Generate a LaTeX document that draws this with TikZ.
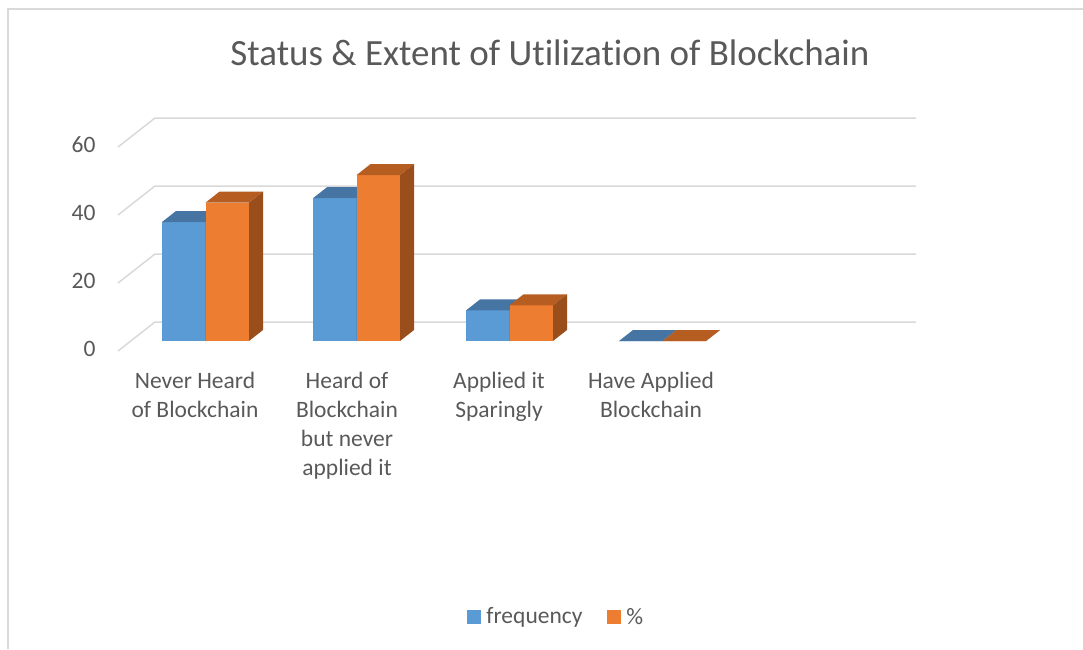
\documentclass[tikz,border=0pt]{standalone}
\usepackage{fontspec}
\setmainfont{Carlito}[Ligatures=NoCommon]
\usepackage{tikz}
\usetikzlibrary{positioning}
\definecolor{freqblue}{HTML}{5B9BD5}
\definecolor{freqtop}{HTML}{4674A3}
\definecolor{pctorange}{HTML}{ED7D31}
\definecolor{pcttop}{HTML}{B65E22}
\definecolor{pctside}{HTML}{9A4E1C}
\definecolor{gridgray}{HTML}{D9D9D9}
\definecolor{labelgray}{HTML}{595959}
% one 3-d bar: x of front-left corner, value, front/top/side colour
\newcommand{\barbox}[5]{%
  \fill[#3] (#1,341) rectangle ({#1+43.5},{341-3.4*#2});
  \fill[#4] (#1,{341-3.4*#2}) -- ++(14,-11) -- ++(43.5,0) -- ++(-14,11) -- cycle;
  \fill[#5] ({#1+43.5},341) -- ({#1+43.5},{341-3.4*#2}) -- ++(14,-11) -- ++(0,{3.4*#2}) -- cycle;}

\begin{document}
\begin{tikzpicture}[x=1pt,y=-1pt,font=\fontsize{23.5}{29}\selectfont,text=labelgray]
\useasboundingbox (0,0) rectangle (1083,649);
\draw[gridgray,line width=1.5pt] (8,649)--(8,9)--(1083,9);
\node[font=\fontsize{37}{44}\selectfont] (title) at (550,53) {Status \& Extent of Utilization of Blockchain};
\foreach \v in {0,20,40,60}{
  \draw[gridgray,line width=1.5pt] (118,{351-3.4*\v})--(155,{322-3.4*\v})--(916,{322-3.4*\v});
  \node[anchor=east] (tick\v) at (99,{349-3.4*\v}) {\v};
}
\foreach \x/\f/\p in {162/35/40.7,313/42/48.8,466/9/10.5,619/0/0}{
  \barbox{\x}{\f}{freqblue}{freqtop}{freqtop}
  \barbox{\x+43.5}{\p}{pctorange}{pcttop}{pctside}
}
\node[anchor=north,align=center,inner sep=0] (cat1) at (195,372) {Never Heard\\of Blockchain};
\node[anchor=north,align=center,inner sep=0] (cat2) at (347,372) {Heard of\\Blockchain\\but never\\applied it};
\node[anchor=north,align=center,inner sep=0] (cat3) at (499,372) {Applied it\\Sparingly};
\node[anchor=north,align=center,inner sep=0] (cat4) at (651,372) {Have Applied\\Blockchain};
\node[fill=freqblue,minimum size=14pt,inner sep=0] (legfreq) at (474,617) {};
\node[right=5pt of legfreq,inner sep=0] (legfreqtxt) {frequency};
\node[fill=pctorange,minimum size=14pt,inner sep=0,right=24pt of legfreqtxt] (legpct) {};
\node[right=5pt of legpct,inner sep=0] (legpcttxt) {\%};
\end{tikzpicture}
\end{document}
